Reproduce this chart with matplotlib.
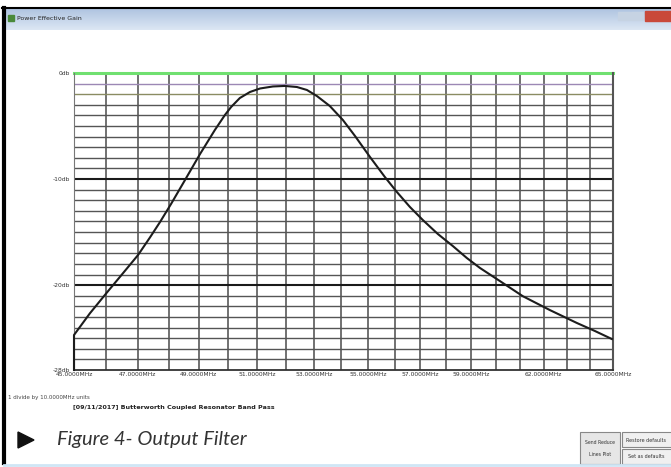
import numpy as np
import matplotlib
matplotlib.use("Agg")
import matplotlib.pyplot as plt
from matplotlib.patches import Rectangle, Polygon

# ---- data ----
freq_mhz = [45.00, 45.00, 45.49, 46.02, 46.50, 47.01, 47.39, 47.72, 48.08, 48.54, 49.04,
            49.54, 49.88, 50.09, 50.39, 50.74, 51.09, 51.54, 51.96, 52.39, 52.75,
            53.11, 53.58, 54.06, 54.51, 55.07, 55.63, 56.09, 56.59, 57.09, 57.68,
            58.27, 58.83, 59.36, 60.17, 61.12, 62.26, 63.42, 64.20, 64.95]
gain_db = [-28.0, -24.70, -22.66, -20.70, -18.98, -17.16, -15.52, -14.05, -12.35, -10.09, -7.64,
           -5.37, -3.96, -3.21, -2.36, -1.79, -1.46, -1.27, -1.22, -1.32, -1.60,
           -2.17, -3.11, -4.43, -5.94, -7.92, -9.80, -11.22, -12.63, -13.86, -15.18,
           -16.31, -17.44, -18.38, -19.61, -21.04, -22.35, -23.57, -24.32, -25.08]
grid_freqs = list(range(45, 66))
xtick_freqs = [45, 47, 49, 51, 53, 55, 57, 59, 62, 65]
xtick_labels = ["%.4fMHz" % f for f in xtick_freqs]
ytick_vals = [0, -10, -20, -28]
ytick_labels = ["0db", "-10db", "-20db", "-28db"]
title_text = "Power Effective Gain"
caption = "Figure 4- Output Filter"

W, H = 671, 467
fig = plt.figure(figsize=(W / 100, H / 100), dpi=100)
fig.patch.set_facecolor("white")

def fx(px):
    return px / W

def fy(py):
    return 1 - py / H

# ---- window chrome ----
bg = fig.add_axes([0, 0, 1, 1])
bg.set_xlim(0, W)
bg.set_ylim(H, 0)
bg.axis("off")
grad = np.linspace(0, 1, 50).reshape(-1, 1)
bg.imshow(grad, extent=(4, W, 30, 8), cmap=matplotlib.colors.LinearSegmentedColormap.from_list(
    "tb", ["#aec3e0", "#dce7f4"]), aspect="auto", zorder=1)
bg.plot([2, W], [8, 8], color="black", lw=1.5, zorder=3)
bg.plot([3.5, 3.5], [8, 463], color="black", lw=3, zorder=3)
bg.plot([4, W], [464.5, 464.5], color="#cfe6f5", lw=2, zorder=3)
bg.add_patch(Rectangle((8, 15), 6, 6, color="#4a8a3a", zorder=4))
bg.text(17, 18.5, title_text, fontsize=4.5, color="#222222", va="center", ha="left", zorder=4)
bg.add_patch(Rectangle((618, 12), 12, 8, color="#c6d3e3", zorder=4))
bg.add_patch(Rectangle((631, 12), 12, 8, color="#c6d3e3", zorder=4))
bg.add_patch(Rectangle((645, 11), 26, 10, color="#c9493a", zorder=4))
bg.set_xlim(0, W)
bg.set_ylim(H, 0)

# ---- plot area ----
ax = fig.add_axes([fx(74), fy(370), fx(613 - 74), (370 - 73) / H])
ax.set_xscale("log")
ax.set_xlim(45, 65)
ax.set_ylim(-28, 0)
ax.set_facecolor("white")

for f in grid_freqs:
    ax.axvline(f, color="#4a4a4a", lw=1.1, zorder=1)
for d in range(-27, 0):
    if d in (-10, -20):
        ax.axhline(d, color="#1a1a1a", lw=1.5, zorder=1)
    elif d == -1:
        ax.axhline(d, color="#9c88b4", lw=1.0, zorder=1)
    elif d == -2:
        ax.axhline(d, color="#8a8c62", lw=1.0, zorder=1)
    else:
        ax.axhline(d, color="#555555", lw=1.0, zorder=1)
ax.axhline(0, color="#70e070", lw=2.2, zorder=2, clip_on=False)

ax.plot(freq_mhz, gain_db, color="#1c1c1c", lw=1.5, zorder=3, solid_joinstyle="round",
        clip_on=False)

ax.xaxis.set_major_locator(matplotlib.ticker.FixedLocator(xtick_freqs))
ax.xaxis.set_minor_locator(matplotlib.ticker.NullLocator())
ax.set_xticklabels(xtick_labels)
ax.set_yticks(ytick_vals)
ax.set_yticklabels(ytick_labels)
ax.tick_params(axis="both", length=0, labelsize=4.3, labelcolor="#333333", pad=3)
ax.tick_params(axis="x", pad=1.5)
ax.spines["top"].set_visible(False)
ax.spines["left"].set_color("#777777")
ax.spines["left"].set_linewidth(0.8)
ax.spines["right"].set_color("#555555")
ax.spines["right"].set_linewidth(1.5)
ax.spines["bottom"].set_color("#333333")
ax.spines["bottom"].set_linewidth(1.3)

# ---- texts below ----
bg.text(8, 398, "1 divide by 10.0000MHz units", fontsize=4.0, color="#444444", va="center", ha="left")
bg.text(73, 407, "[09/11/2017] Butterworth Coupled Resonator Band Pass", fontsize=4.6,
        fontweight="bold", color="#222222", va="center", ha="left")

bg.add_patch(Polygon([[18, 432], [18, 448], [34, 440]], closed=True, color="#111111"))
bg.text(57, 440, caption, fontsize=14.5, family="Lato", style="italic", fontweight="normal",
        color="#333333", va="center", ha="left")

bg.add_patch(Rectangle((580, 432), 40, 32, facecolor="#e6e6e6", edgecolor="#888888", lw=0.8))
bg.text(600, 443, "Send Reduce", fontsize=3.3, ha="center", va="center", color="#333333")
bg.text(600, 454, "Lines Plot", fontsize=3.3, ha="center", va="center", color="#333333")
bg.add_patch(Rectangle((622, 432), 52, 15, facecolor="#f0f0f0", edgecolor="#888888", lw=0.8))
bg.add_patch(Rectangle((622, 449), 52, 15, facecolor="#f0f0f0", edgecolor="#888888", lw=0.8))
bg.text(626, 440, "Restore defaults", fontsize=3.5, ha="left", va="center", color="#333333")
bg.text(628, 456, "Set as defaults", fontsize=3.5, ha="left", va="center", color="#333333")

fig.savefig("out.png", dpi=100, facecolor="white")
